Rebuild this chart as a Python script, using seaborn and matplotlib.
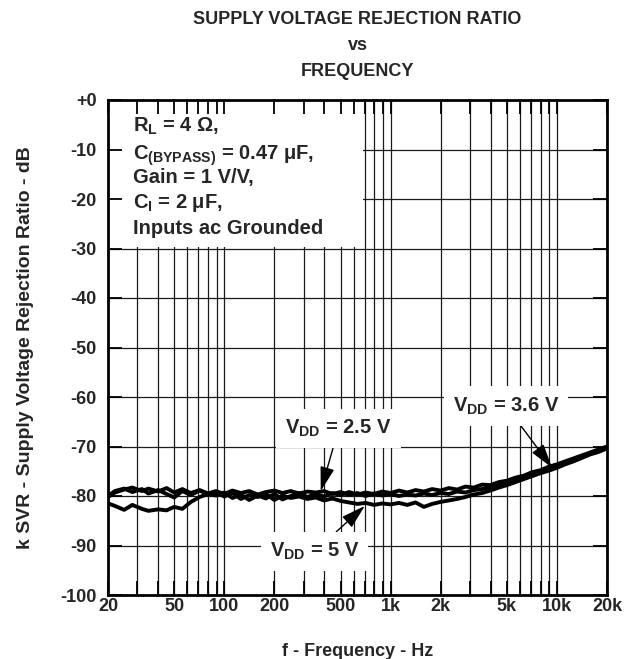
import numpy as np
import pandas as pd
import seaborn as sns
import matplotlib
matplotlib.use("Agg")
import matplotlib.pyplot as plt
from matplotlib.ticker import FixedLocator, FixedFormatter, NullFormatter
from matplotlib.patches import Rectangle

# ---------------- data ----------------
freq = [20, 22, 25, 28, 32, 35, 40, 45, 50, 56, 63, 71, 80, 89, 100, 112, 126, 141,
        159, 178, 200, 224, 251, 282, 316, 355, 398, 447, 501, 562, 631, 708, 794,
        891, 1000, 1122, 1259, 1413, 1585, 1778, 1995, 2239, 2512, 2818, 3162, 3548,
        3981, 4467, 5012, 5623, 6310, 7079, 7943, 8913, 10000, 11220, 12589, 14125,
        15849, 17783, 20000]

svr_2v5 = [-80.2, -79.3, -78.7, -78.3, -79.0, -78.5, -79.1, -78.4, -79.3, -78.6,
           -79.4, -78.8, -79.5, -79.0, -79.6, -78.9, -79.4, -79.0, -79.7, -79.2,
           -78.9, -79.4, -79.0, -79.5, -79.1, -79.3, -79.0, -79.6, -79.2, -79.8,
           -79.4, -80.0, -79.5, -79.9, -79.6, -80.0, -79.7, -79.9, -79.5, -79.8,
           -79.4, -79.6, -79.1, -79.3, -78.8, -78.6, -78.2, -77.8, -77.3, -76.9,
           -76.3, -75.8, -75.2, -74.6, -74.0, -73.4, -72.8, -72.2, -71.5, -70.9,
           -70.2]

svr_3v6 = [-81.5, -82.0, -82.8, -81.8, -82.6, -83.0, -82.7, -82.9, -82.2, -82.6,
           -81.2, -80.2, -79.6, -79.9, -79.3, -80.4, -79.7, -80.8, -79.9, -80.5,
           -79.6, -80.7, -80.0, -79.4, -80.2, -79.6, -80.1, -79.4, -79.8, -79.2,
           -79.7, -79.3, -79.6, -79.1, -79.4, -78.9, -79.3, -78.8, -79.1, -78.6,
           -78.9, -78.4, -78.7, -78.1, -78.3, -77.7, -77.8, -77.2, -76.9, -76.3,
           -75.9, -75.2, -74.8, -74.1, -73.6, -73.0, -72.4, -71.8, -71.2, -70.6,
           -70.0]

svr_5v = [-80.0, -79.0, -78.5, -79.2, -78.6, -79.5, -78.8, -79.6, -80.3, -79.0,
          -79.8, -78.9, -79.6, -79.2, -80.1, -79.4, -80.6, -79.8, -80.2, -79.6,
          -80.8, -79.9, -80.4, -80.1, -80.6, -80.3, -80.9, -80.5, -81.0, -81.3,
          -81.6, -81.4, -81.8, -81.5, -81.7, -81.4, -81.8, -81.3, -82.2, -81.6,
          -81.2, -80.9, -80.6, -80.2, -79.7, -79.4, -78.9, -78.3, -77.8, -77.2,
          -76.6, -76.0, -75.4, -74.9, -74.3, -73.6, -73.0, -72.3, -71.6, -71.1,
          -70.4]

series_names = ["VDD = 2.5 V", "VDD = 3.6 V", "VDD = 5 V"]

grid_freqs = [30, 40, 50, 60, 70, 80, 90, 100, 200, 300, 400, 500, 600, 700, 800,
              900, 1000, 2000, 3000, 4000, 5000, 6000, 7000, 8000, 9000, 10000]
xtick_vals = [20, 50, 100, 200, 500, 1000, 2000, 5000, 10000, 20000]
xtick_labels = ["20", "50", "100", "200", "500", "1k", "2k", "5k", "10k", "20k"]
ytick_vals = [0, -10, -20, -30, -40, -50, -60, -70, -80, -90, -100]
ytick_labels = ["+0", "-10", "-20", "-30", "-40", "-50", "-60", "-70", "-80", "-90", "-100"]

# ---------------- style ----------------
sns.set_theme(style="white")
plt.rcParams["font.family"] = ["Liberation Sans", "DejaVu Sans"]
plt.rcParams["font.weight"] = "bold"
plt.rcParams["mathtext.fontset"] = "custom"
plt.rcParams["mathtext.rm"] = "Liberation Sans:bold"
plt.rcParams["mathtext.bf"] = "Liberation Sans:bold"
plt.rcParams["mathtext.it"] = "Liberation Sans:bold"

df = pd.concat([
    pd.DataFrame({"f": freq, "svr": svr_2v5, "vdd": series_names[0]}),
    pd.DataFrame({"f": freq, "svr": svr_3v6, "vdd": series_names[1]}),
    pd.DataFrame({"f": freq, "svr": svr_5v, "vdd": series_names[2]}),
])

W, H = 641, 659
fig = plt.figure(figsize=(W / 100, H / 100), dpi=100)
L, R, T, B = 108, 607, 100, 595
ax = fig.add_axes([L / W, 1 - B / H, (R - L) / W, (B - T) / H])

sns.lineplot(data=df, x="f", y="svr", hue="vdd",
             palette={n: "black" for n in series_names},
             estimator=None, legend=False, lw=2.8, ax=ax, zorder=3)

ax.set_xscale("log")
ax.set_xlim(20, 20000)
ax.set_ylim(-100, 0)

# manual grid (so white label boxes can hide it while ticks stay visible)
for g in grid_freqs:
    ax.axvline(g, color="#1a1a1a", lw=0.9, zorder=0.8)
for yv in ytick_vals[1:-1]:
    ax.axhline(yv, color="#1a1a1a", lw=0.9, zorder=0.8)

# white box behind the conditions text
ax.add_patch(Rectangle((20, -29.6), 660, 29.6, facecolor="white",
                       edgecolor="none", zorder=0.9))

ax.xaxis.set_major_locator(FixedLocator(xtick_vals))
ax.xaxis.set_major_formatter(FixedFormatter(xtick_labels))
ax.xaxis.set_minor_locator(FixedLocator(grid_freqs))
ax.xaxis.set_minor_formatter(NullFormatter())
ax.yaxis.set_major_locator(FixedLocator(ytick_vals))
ax.yaxis.set_major_formatter(FixedFormatter(ytick_labels))
ax.tick_params(which="both", direction="in", length=10, width=1.3, color="black",
               bottom=True, left=True, top=True, right=True, labelsize=13)
ax.tick_params(axis="x", which="major", pad=2)
ax.tick_params(axis="y", which="major", pad=8)
ax.xaxis.set_zorder(2.5)
ax.yaxis.set_zorder(2.5)
for lab in ax.get_xticklabels() + ax.get_yticklabels():
    lab.set_fontweight("bold")

for s in ax.spines.values():
    s.set_linewidth(2.0)
    s.set_color("black")

ax.set_xlabel("f - Frequency - Hz", fontsize=13, fontweight="bold", labelpad=20)
ax.set_ylabel("k SVR - Supply Voltage Rejection Ratio - dB", fontsize=14,
              fontweight="bold", labelpad=19)

# conditions text
cond = [r"R$_{\mathbf{L}}$ = 4 Ω,",
        r"C$_{\mathbf{(BYPASS)}}$ = 0.47 μF,",
        "Gain = 1 V/V,",
        r"C$_{\mathbf{I}}$ = 2 μF,",
        "Inputs ac Grounded"]
cond_y = [-6.5, -12.0, -16.8, -21.9, -27.1]
for txt, yv in zip(cond, cond_y):
    ax.text(0.05, yv, txt, transform=ax.get_yaxis_transform(), fontsize=14.5,
            fontweight="bold", va="baseline", ha="left", zorder=4)

# series labels with arrows
arrow = dict(arrowstyle="-|>,head_length=0.75,head_width=0.22", color="black",
             lw=1.0, mutation_scale=20, shrinkA=0, shrinkB=0)
box = dict(boxstyle="square,pad=0.45", facecolor="white", edgecolor="none")
ax.annotate(r"V$_{\mathbf{DD}}$ = 2.5 V", xy=(380, -79.0), xytext=(487, -66.4),
            fontsize=14.5, fontweight="bold", ha="center", va="center",
            bbox=box, arrowprops=arrow, zorder=4)
ax.annotate(r"V$_{\mathbf{DD}}$ = 3.6 V", xy=(9350, -74.3), xytext=(4950, -61.8),
            fontsize=14.5, fontweight="bold", ha="center", va="center",
            bbox=box, arrowprops=arrow, zorder=4)
ax.annotate(r"V$_{\mathbf{DD}}$ = 5 V", xy=(700, -82.0), xytext=(349, -91.2),
            fontsize=14.5, fontweight="bold", ha="center", va="center",
            bbox=box, arrowprops=arrow, zorder=4)

# title
cx = (L + R) / 2 / W
fig.text(cx, 1 - 20 / H, "SUPPLY VOLTAGE REJECTION RATIO", ha="center", va="center",
         fontsize=13, fontweight="bold")
fig.text(cx, 1 - 46 / H, "vs", ha="center", va="center", fontsize=13, fontweight="bold")
fig.text(cx, 1 - 72 / H, "FREQUENCY", ha="center", va="center", fontsize=13,
         fontweight="bold")

fig.savefig("out.png", dpi=100)
